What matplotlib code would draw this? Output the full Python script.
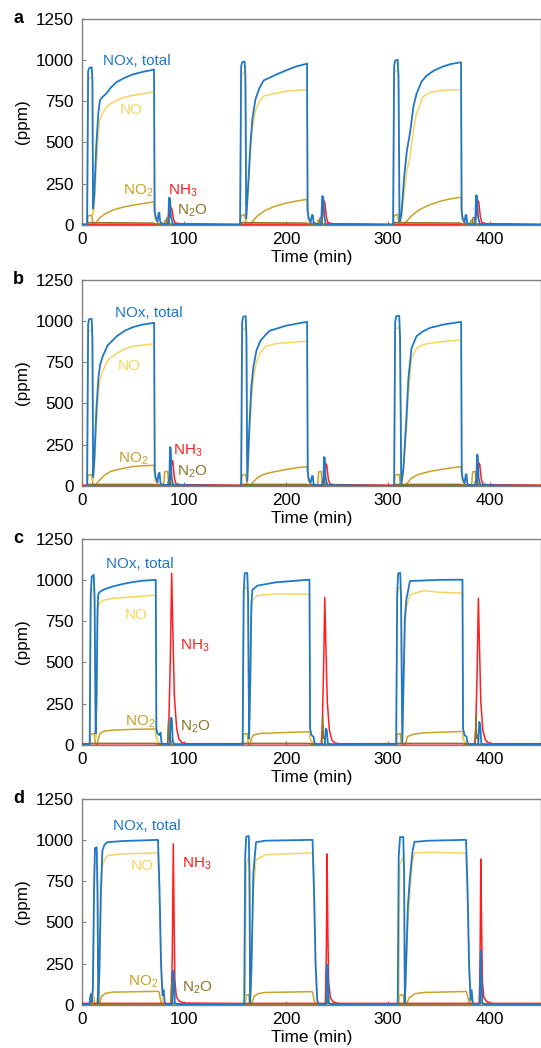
import matplotlib.pyplot as plt

plt.rcParams['font.family'] = ['Liberation Sans', 'DejaVu Sans']
plt.rcParams['mathtext.default'] = 'regular'

# ---- data: (time in min, ppm) ----
# panel a
a_nox = [(0,0),(5,0),(6,930),(7,950),(9.5,955),(10.2,880),(10.8,100),(12,180),(14,480),(16,680),(17.6,755),(20,775),
         (23.7,795),(28,830),(34,866),(42,892),(50,912),(60,928),(70,940),(70.6,942),(71.2,90),(72,55),(74,20),(75,70),
         (75.8,75),(76.6,20),(79,5),(84.5,5),(85.3,165),(86.3,160),(87.2,50),(89,5),
         (155,0),(156,960),(157,985),(159.5,990),(160.2,900),(161,40),(163,250),(165,480),(167,640),(170,760),(174,830),
         (178,875),(184,892),(192,915),(200,936),(210,960),(220,976),(220.6,978),(221.2,85),(222,50),(224,15),(225.5,60),
         (226.3,60),(227,15),(230,5),(234.5,5),(235.5,175),(236.5,170),(237.5,50),(239,5),
         (305,0),(306,960),(307,995),(309.5,1000),(310.3,900),(311.3,20),(313,60),(316,300),(318.5,450),(321.6,560),
         (325,720),(328,795),(333,870),(338,905),(345,935),(354,960),(362,975),(371,985),(371.6,985),(372.2,85),
         (373,45),(375,15),(376,60),(376.8,60),(377.6,10),(381,5),(385.5,5),(386.3,180),(387.3,175),(388.3,50),(390,5),(450,0)]
a_no = [(0,0),(5,0),(6,880),(9.5,900),(10.2,850),(10.8,60),(12,100),(14,350),(16,560),(17.6,640),(20,675),(23.7,710),
        (28,735),(34,755),(42,775),(50,785),(60,795),(70,805),(70.6,805),(71.2,40),(72,25),(74,8),(76,0),
        (155,0),(156,900),(159.5,930),(160.2,850),(161,20),(163,200),(165,420),(167,580),(170,690),(174,750),(178,780),
        (184,790),(200,810),(220,820),(220.6,820),(221.2,40),(222,25),(224,8),(226,0),
        (305,0),(306,920),(309.5,940),(310.3,850),(311.3,10),(313,30),(316,200),(318.5,330),(321.6,410),(325,580),
        (328,675),(334,775),(340,800),(347,810),(360,818),(371,820),(371.6,820),(372.2,40),(373,25),(375,8),(377,0),(450,0)]
a_no2 = [(0,0),(5,0),(5.8,55),(9.5,60),(10.5,15),(11.5,0),(12.5,0),(14,15),(17.6,45),(22,65),(30,90),(40,108),(50,120),
         (60,130),(70,140),(70.6,140),(71.2,80),(72,40),(74,15),(76,5),(80,5),(81.5,30),(83,30),(84,5),
         (155,0),(155.8,55),(159.5,65),(160.5,15),(161.5,0),(164,0),(167,20),(172,55),(180,90),(190,115),(200,132),
         (210,145),(220,155),(220.6,155),(221.2,80),(222,40),(224,15),(226,5),(230,5),(231.5,30),(233,30),(234,5),
         (305,0),(305.8,55),(309.5,65),(310.5,15),(311.5,0),(315,0),(318,20),(323,55),(330,90),(340,120),(350,142),
         (360,157),(371,168),(371.6,168),(372.2,80),(373,40),(375,15),(377,5),(380,5),(381.5,30),(383,30),(384,5),(450,0)]
a_nh3 = [(0,5),(84.5,5),(85.5,60),(86.5,110),(88,100),(89.5,40),(91,15),(95,8),(150,5),(234.5,5),(235.5,60),(236.5,150),
         (238,140),(239.5,50),(241,15),(245,8),(300,5),(385.5,5),(386.5,60),(387.5,150),(389,140),(390.5,50),(392,15),
         (396,8),(450,5)]
a_n2o = [(0,0),(5,0),(6,15),(70,12),(72,5),(82,5),(83.5,45),(85,45),(86,5),(155,0),(156,15),(220,12),(222,5),(232,5),
         (233.5,45),(235,45),(236,5),(305,0),(306,15),(371,12),(373,5),(382,5),(383.5,45),(385,45),(386,5),(450,0)]

# panel b
b_nox = [(0,0),(5,0),(6,980),(7,1010),(9.5,1012),(10.2,900),(10.9,55),(12,150),(14,450),(16,650),(17.6,730),(20,780),
         (25,850),(34,906),(42,940),(50,962),(60,978),(70,987),(70.7,987),(71.3,90),(72,55),(74,20),(75,75),(76,80),
         (77,15),(80,5),(85.5,5),(86.3,235),(87,230),(87.8,50),(89.5,5),
         (156,0),(157,990),(158,1025),(160.5,1028),(161.2,900),(162,30),(164,350),(166,600),(168,720),(171,820),
         (175,880),(180,915),(184,940),(200,970),(210,982),(220,993),(220.7,993),(221.3,90),(222,50),(224,15),
         (225.5,60),(226.3,60),(227,10),(230,5),(236.5,5),(237.3,175),(238,170),(238.8,50),(240.5,5),
         (306,0),(307,990),(308,1028),(311,1030),(311.8,900),(313,10),(315,100),(318,405),(320,650),(323,834),
         (328,907),(334,935),(341,957),(355,978),(371,993),(371.7,993),(372.3,90),(373,50),(375,15),(376.3,70),
         (377,70),(377.8,10),(381,5),(386.5,5),(387.3,190),(388,185),(388.8,50),(390.5,5),(450,0)]
b_no = [(0,0),(5,0),(6,930),(9.5,950),(10.2,850),(10.9,30),(12,100),(14,350),(16,560),(17.6,640),(20,690),(25,760),
        (34,803),(42,830),(50,845),(60,853),(70,860),(70.7,860),(71.3,40),(72,25),(74,8),(76,0),
        (156,0),(157,940),(160.5,960),(161.2,860),(162,20),(164,280),(166,520),(168,650),(171,750),(175,810),
        (180,845),(190,862),(220,876),(220.7,876),(221.3,40),(222,25),(224,8),(226,0),
        (306,0),(307,950),(311,960),(311.8,860),(313,5),(315,60),(318,330),(320,560),(323,772),(328,834),(334,855),
        (341,864),(355,875),(371,883),(371.7,883),(372.3,40),(373,25),(375,8),(377,0),(450,0)]
b_no2 = [(0,0),(5,0),(5.8,65),(9.5,70),(10.5,15),(11.5,0),(13,0),(15,20),(17.6,37),(22,65),(28,88),(34,98),(50,118),
         (60,122),(70,125),(70.7,125),(71.3,70),(72,35),(74,12),(76,5),(80,5),(81,85),(84,88),(85,5),
         (156,0),(156.8,65),(160.5,70),(161.5,15),(162.5,0),(165,0),(168,25),(172,50),(178,70),(184,80),(200,100),
         (210,110),(220,117),(220.7,117),(221.3,60),(222,30),(224,10),(226,5),(231,5),(232,85),(234.5,88),(235.5,5),
         (306,0),(306.8,65),(311,70),(312,15),(313,0),(316,0),(320,25),(323,48),(330,70),(341,88),(355,103),(371,117),
         (371.7,117),(372.3,60),(373,30),(375,10),(377,5),(382,5),(383,85),(385.5,88),(386.5,5),(450,0)]
b_nh3 = [(0,5),(86.5,5),(87.3,100),(88,155),(89,150),(90.5,50),(92,15),(96,8),(150,5),(237.5,5),(238.3,90),(239,135),
         (240,125),(241.5,40),(243,12),(247,8),(300,5),(387.5,5),(388.3,90),(389,140),(390,130),(391.5,40),(393,12),
         (397,8),(450,5)]
b_n2o = [(0,0),(5,0),(6,10),(70,10),(72,5),(84,5),(85,40),(86.5,40),(87.5,5),(155,0),(156,10),(220,10),(222,5),(235,5),
         (236,40),(237.5,40),(238.5,5),(305,0),(306,10),(371,10),(373,5),(385,5),(386,40),(387.5,40),(388.5,5),(450,0)]

# panel c
c_nox = [(0,0),(7.5,0),(8.5,900),(9.5,1020),(11.5,1030),(12.3,900),(13.4,70),(14.3,300),(15.2,820),(15.9,910),
         (17,925),(20.9,940),(30,960),(40,975),(50,987),(60,995),(71.5,1000),(72.3,1000),(72.9,100),(74,70),(76,60),
         (77,75),(78,10),(81,5),(86,5),(87,165),(88,160),(89,20),(91,5),
         (157.5,0),(158.5,920),(159.5,1040),(162,1042),(162.8,900),(163.8,40),(165,400),(166,850),(167,940),(172,965),
         (190,985),(222.5,1001),(223,1001),(223.6,100),(225,60),(227,50),(228,10),(231,5),(238,5),(239,100),(240,90),
         (241,10),(243,5),
         (308,0),(309,920),(310,1040),(312,1042),(312.8,900),(314,10),(316.5,766),(318,880),(321.5,993),(330,995),
         (350,1000),(372,1001),(373,1001),(373.6,100),(375,60),(377,50),(378,10),(381,5),(388.5,5),(389.5,140),
         (390.5,120),(391.5,10),(393,5),(450,0)]
c_no = [(0,0),(7.5,0),(8.5,850),(9.5,940),(11.5,950),(12.3,850),(13.4,40),(14.3,250),(15.2,760),(15.9,840),(18,865),
        (22,878),(30,888),(50,897),(71.5,907),(72.3,907),(72.9,50),(74,25),(76,8),(78,0),
        (157.5,0),(158.5,870),(159.5,950),(162,955),(162.8,850),(163.8,20),(165,350),(166,780),(167,880),(172,905),
        (190,915),(222.5,913),(223,913),(223.6,50),(225,25),(227,8),(229,0),
        (308,0),(309,870),(310,950),(312,955),(312.8,850),(314,5),(316.5,700),(318,830),(321.5,910),(335,935),
        (350,925),(372,920),(373,920),(373.6,50),(375,25),(377,8),(379,0),(450,0)]
c_no2 = [(0,0),(7.5,0),(8.3,65),(12,70),(13,15),(14,0),(15,0),(16,40),(17.6,70),(22,85),(30,90),(50,95),(71.5,97),
         (72.3,97),(72.9,50),(74,25),(76,8),(78,3),
         (157.5,0),(158.3,65),(162,70),(163,15),(164,0),(165,0),(166,40),(168,60),(175,70),(200,76),(222.5,80),
         (223,80),(223.6,40),(225,20),(227,8),(229,3),
         (308,0),(308.8,65),(312,70),(313,15),(314,0),(317,0),(319,51),(325,65),(335,74),(372,82),(373,82),(373.6,40),
         (375,20),(377,8),(379,3),(450,0)]
c_nh3 = [(0,8),(84,8),(85,100),(86.5,500),(87.9,1040),(89,700),(90.5,300),(92.8,100),(95,35),(98,15),(102,8),(150,8),
         (234.5,8),(235.5,100),(236.8,450),(238,893),(239,620),(240.5,260),(242.5,90),(245,30),(248,12),(252,8),
         (300,8),(385,8),(386,100),(387.4,450),(388.6,889),(389.6,620),(391,260),(393,90),(395.5,30),(398.5,12),
         (402,8),(450,8)]
c_n2o = [(0,0),(7,0),(8,10),(72,10),(74,5),(83.8,5),(84.6,143),(85.4,40),(86.5,60),(87.5,5),(157,0),(158,10),(223,10),
         (225,5),(235.2,5),(236,178),(236.8,40),(237.5,50),(238.5,5),(308,0),(309,10),(373,10),(375,5),(385.5,5),
         (386.3,180),(387,40),(387.8,60),(388.8,5),(450,0)]

# panel d
d_nox = [(0,0),(7,0),(8.5,60),(9.5,20),(10.6,100),(11.8,700),(12.7,950),(14.4,955),(15.2,700),(15.9,10),(17,200),
         (18.5,700),(20,935),(22,970),(24.9,986),(40,993),(60,997),(73.6,1000),(74.5,1000),(76,700),(77.5,250),(79,60),
         (80,90),(81,20),(82.5,5),(88.5,5),(89.5,209),(90.3,150),(91,10),(93,5),
         (159,0),(160,900),(161,1020),(163.5,1023),(164.2,800),(164.8,10),(166,200),(168,800),(170.6,986),(180,995),
         (225.2,1000),(226,1000),(227.5,700),(229,250),(230.6,30),(232,5),(239.5,5),(240.5,244),(241.3,150),(242,10),
         (244,5),
         (309.5,0),(310.5,900),(311.8,1017),(315,1017),(315.8,800),(316.5,10),(317.5,200),(319.5,600),(321.4,763),
         (324,930),(326,988),(340,995),(375.5,1000),(376.5,1000),(378,700),(379.5,250),(381,30),(382,90),(383,20),
         (384,5),(390,5),(391,331),(391.8,150),(392.5,10),(394,5),(450,0)]
d_no = [(0,0),(11,0),(12,850),(14.4,880),(15.2,600),(15.9,5),(17,150),(18.5,600),(20,843),(22,880),(24.9,905),(40,915),
        (73.6,921),(74.5,921),(76,600),(77.5,200),(79,20),(81,0),
        (160,0),(161,850),(163.5,900),(164.2,700),(164.8,5),(166,150),(168,700),(170.6,880),(180,910),(225.2,921),
        (226,921),(227.5,600),(229,200),(230.6,20),(232,0),
        (310.5,0),(311.5,850),(315,900),(315.8,700),(316.5,5),(317.5,150),(319.5,500),(321.4,680),(324,870),(326,920),
        (340,925),(375.5,920),(376.5,920),(378,600),(379.5,200),(381,20),(383,0),(450,0)]
d_no2 = [(0,0),(9.5,0),(10.5,55),(11.5,50),(12.5,5),(14.5,10),(15.4,55),(16.3,10),(17.6,15),(19,50),(23,71),(30,78),
         (74.5,83),(75.5,80),(77,30),(78.4,2),
         (160,0),(160.8,60),(163.5,62),(164.3,10),(165.5,0),(167,20),(169,55),(173,70),(180,76),(225.2,81),(226,80),
         (227.5,30),(229,2),
         (310.5,0),(311.3,60),(315,62),(315.8,10),(317,0),(319,20),(321,45),(326,68),(335,76),(376,82),(377,80),
         (379,30),(380.5,2),(450,0)]
d_nh3 = [(0,10),(87.5,10),(88.5,300),(89.5,976),(90.3,500),(91,150),(92.5,50),(95,25),(100,12),(150,10),(238.5,10),
         (239.5,300),(240.3,915),(241,450),(241.8,140),(243.5,45),(246,20),(251,10),(300,10),(389.5,10),(390.3,300),
         (391,884),(391.8,450),(392.6,140),(394,45),(397,20),(402,10),(450,10)]
d_n2o = [(0,0),(8,0),(8.5,70),(9.5,5),(75,5),(87,5),(87.8,143),(88.6,10),(160,5),(239,5),(239.8,173),(240.6,10),
         (310,5),(389.5,5),(390.3,165),(391.1,10),(450,5)]

species = ['NOx, total', 'NO', 'NO$_2$', 'NH$_3$', 'N$_2$O']
colors = ['#1f78c8', '#f7d462', '#c9a227', '#ff1f1f', '#8a7626']

panels = [
    ('a', [a_nox, a_no, a_no2, a_nh3, a_n2o]),
    ('b', [b_nox, b_no, b_no2, b_nh3, b_n2o]),
    ('c', [c_nox, c_no, c_no2, c_nh3, c_n2o]),
    ('d', [d_nox, d_no, d_no2, d_nh3, d_n2o]),
]

# label anchor positions (data coords), order as species
label_pos = [
    [(20.6, 990), (37, 695), (40, 210), (84, 210), (93, 85)],
    [(32.4, 1048), (35, 725), (35, 165), (89, 210), (93, 84)],
    [(24, 1093), (42, 786), (42, 143), (96, 603), (96, 112)],
    [(30.7, 1084), (48, 840), (45, 142), (98, 854), (98, 102)],
]

fig = plt.figure(figsize=(5.41, 10.48), dpi=100)
bottoms = [0.7853, 0.5363, 0.2891, 0.0410]
draw_order = [2, 1, 3, 4, 0]   # NO2, NO, NH3, N2O, NOx on top
widths = [1.3, 1.1, 1.1, 1.1, 1.0]

for (letter, series), bot, lpos in zip(panels, bottoms, label_pos):
    ax = fig.add_axes([0.1516, bot, 0.8484, 0.197])
    for i in draw_order:
        t = [p[0] for p in series[i]]
        v = [p[1] for p in series[i]]
        ax.plot(t, v, color=colors[i], lw=widths[i], zorder=2 + draw_order.index(i))
    for i, (x, y) in enumerate(lpos):
        ax.text(x, y, species[i], color=colors[i], fontsize=11, ha='left', va='center')
    ax.set_xlim(0, 450)
    ax.set_ylim(0, 1250)
    ax.set_xticks([0, 100, 200, 300, 400])
    ax.set_yticks([0, 250, 500, 750, 1000, 1250])
    ax.tick_params(direction='in', length=3, width=0.8, color='#808080', labelsize=12.3)
    ax.tick_params(axis='y', pad=6)
    ax.tick_params(axis='x', pad=5)
    for s in ax.spines.values():
        s.set_color('#808080')
        s.set_linewidth(1.0)
    ax.set_xlabel('Time (min)', fontsize=12.3, labelpad=2.5)
    ax.set_ylabel('(ppm)', fontsize=12.3, labelpad=4)
    ax.text(-0.15, 1.0, letter, transform=ax.transAxes, fontsize=13, fontweight='bold',
            ha='left', va='center')

fig.savefig('out.png', dpi=100)
